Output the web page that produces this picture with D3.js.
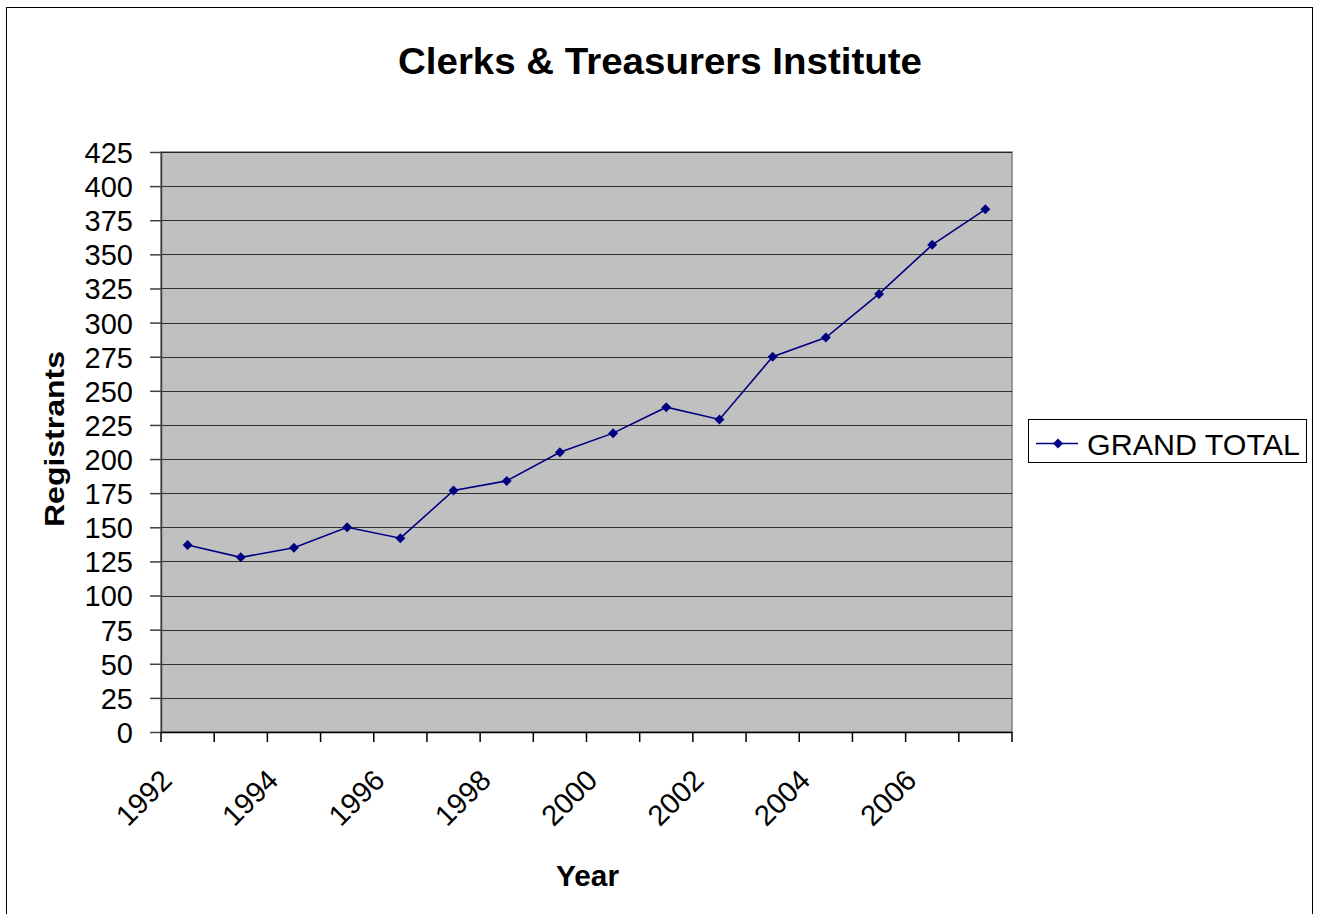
<!DOCTYPE html>
<html><head><meta charset="utf-8">
<script src="https://cdn.jsdelivr.net/npm/d3@7"></script>
<style>body{margin:0;background:#fff}svg{display:block}text{font-family:Arial,"Liberation Sans",sans-serif}</style>
</head><body>
<svg id="c" width="1317" height="914"></svg>
<script>
const years = [1992,1993,1994,1995,1996,1997,1998,1999,2000,2001,2002,2003,2004,2005,2006,2007];
const grandTotal = [137,128,135,150,142,177,184,205,219,238,229,275,289,321,357,383];
const yTicks = d3.range(0, 426, 25);
const xLabelYears = [1992,1994,1996,1998,2000,2002,2004,2006];
const seriesName = "GRAND TOTAL";
const title = "Clerks & Treasurers Institute";

const svg = d3.select("#c");
const L = 161, T = 152, R = 1012, B = 732;
const navy = "#000080";

svg.append("rect").attr("x",6.5).attr("y",7.5).attr("width",1306).attr("height",920)
  .attr("fill","#fff").attr("stroke","#000").attr("stroke-width",1);

const x = d3.scaleBand().domain(years).range([L,R]).padding(0);
const y = d3.scaleLinear().domain([0,425]).range([B,T]);

svg.append("rect").attr("x",L).attr("y",T).attr("width",R-L).attr("height",B-T)
  .attr("fill","#c0c0c0").attr("stroke","#808080").attr("stroke-width",1.5);

// gridlines
svg.append("g").selectAll("line").data(yTicks.filter(d=>d>0)).join("line")
  .attr("x1",L).attr("x2",R).attr("y1",d=>Math.round(y(d))+0.5).attr("y2",d=>Math.round(y(d))+0.5)
  .attr("stroke","#000").attr("stroke-width",1).attr("opacity",0.75);

// y axis
const ya = svg.append("g").attr("transform",`translate(${L},0)`)
  .call(d3.axisLeft(y).tickValues(yTicks).tickSize(11).tickPadding(17).tickSizeOuter(0));
ya.select(".domain").attr("stroke","#404040").attr("stroke-width",1.5);
ya.selectAll(".tick line").attr("stroke","#404040").attr("stroke-width",1.5);
ya.selectAll("text").attr("font-size",29).attr("fill","#000").attr("dy","0.36em");

// x axis
const xa = svg.append("g").attr("transform",`translate(0,${B})`)
  .call(d3.axisBottom(x).tickValues([]).tickSizeOuter(0));
xa.select(".domain").attr("stroke","#000").attr("stroke-width",1.5);
const tickPos = years.map(d=>x(d)).concat([R]);
svg.append("g").selectAll("line").data(tickPos).join("line")
  .attr("x1",d=>d).attr("x2",d=>d).attr("y1",B).attr("y2",B+10)
  .attr("stroke","#000").attr("stroke-width",1.5);
svg.append("g").selectAll("text").data(xLabelYears).join("text")
  .attr("transform",d=>`translate(${x(d)+x.bandwidth()/2-14},${B+50}) rotate(-45)`)
  .attr("text-anchor","end").attr("font-size",29).attr("fill","#000")
  .text(d=>d);

// line
const line = d3.line().x((d,i)=>x(years[i])+x.bandwidth()/2).y(d=>y(d));
svg.append("path").datum(grandTotal).attr("d",line).attr("fill","none")
  .attr("stroke",navy).attr("stroke-width",1.6);
svg.append("g").selectAll("path").data(grandTotal).join("path")
  .attr("transform",(d,i)=>`translate(${x(years[i])+x.bandwidth()/2},${y(d)}) rotate(45)`)
  .attr("d",d3.symbol().type(d3.symbolSquare).size(50)).attr("fill",navy);

// titles
svg.append("text").attr("x",398).attr("y",74)
  .attr("font-size",37).attr("font-weight","bold")
  .attr("textLength",524).attr("lengthAdjust","spacingAndGlyphs").text(title);
svg.append("text").attr("transform","translate(64,527) rotate(-90)")
  .attr("font-size",28).attr("font-weight","bold")
  .attr("textLength",176).attr("lengthAdjust","spacingAndGlyphs").text("Registrants");
svg.append("text").attr("x",556).attr("y",886)
  .attr("font-size",30).attr("font-weight","bold")
  .attr("textLength",63).attr("lengthAdjust","spacingAndGlyphs").text("Year");

// legend
const lg = svg.append("g");
lg.append("rect").attr("x",1028.5).attr("y",419.5).attr("width",278).attr("height",43)
  .attr("fill","#fff").attr("stroke","#000").attr("stroke-width",1);
lg.append("line").attr("x1",1036).attr("x2",1078).attr("y1",443.5).attr("y2",443.5)
  .attr("stroke",navy).attr("stroke-width",1.6);
lg.append("path").attr("transform","translate(1058,443.5) rotate(45)")
  .attr("d",d3.symbol().type(d3.symbolSquare).size(50)).attr("fill",navy);
lg.append("text").attr("x",1087).attr("y",455).attr("font-size",30)
  .attr("textLength",213).attr("lengthAdjust","spacingAndGlyphs").text(seriesName);
</script>
</body></html>
